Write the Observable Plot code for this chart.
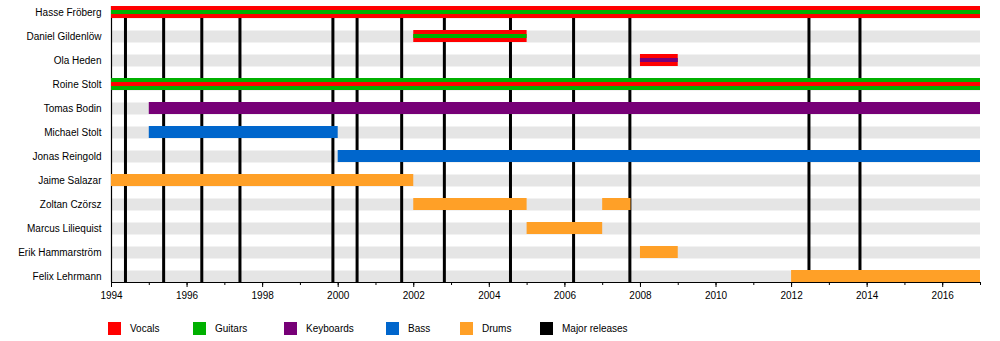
<!DOCTYPE html>
<html>
<head>
<meta charset="utf-8">
<script src="https://cdn.jsdelivr.net/npm/d3@7"></script>
<script src="https://cdn.jsdelivr.net/npm/@observablehq/plot@0.6"></script>
<style>
  html, body { margin: 0; padding: 0; background: #fff; }
  #wrap { position: relative; width: 1000px; height: 341px; font-family: "Liberation Sans", Arial, sans-serif; }
  #legend { position: absolute; left: 0; top: 322px; width: 1000px; height: 14px; font-size: 10px; color: #000; }
  .item { position: absolute; top: 0; height: 13px; line-height: 13px; white-space: nowrap; }
  .sw { position: absolute; left: 0; top: 0; width: 13px; height: 13px; }
  .lab { position: absolute; left: 22px; top: 0; }
</style>
</head>
<body>
<div id="wrap"><div id="chart"></div><div id="legend"></div></div>
<script>
// ---- data ----
const members = ["Hasse Fröberg", "Daniel Gildenlöw", "Ola Heden", "Roine Stolt", "Tomas Bodin",
  "Michael Stolt", "Jonas Reingold", "Jaime Salazar", "Zoltan Czörsz", "Marcus Liliequist",
  "Erik Hammarström", "Felix Lehrmann"];
const roles = ["Vocals", "Guitars", "Keyboards", "Bass", "Drums", "Major releases"];
const roleColors = ["#ff0000", "#00b000", "#770077", "#0066cc", "#ffa027", "#000000"];

const stintMember = ["Hasse Fröberg", "Daniel Gildenlöw", "Ola Heden", "Roine Stolt", "Tomas Bodin",
  "Michael Stolt", "Jonas Reingold", "Jaime Salazar", "Zoltan Czörsz", "Zoltan Czörsz",
  "Marcus Liliequist", "Erik Hammarström", "Felix Lehrmann"];
const stintStart = [1994, 2002, 2008, 1994, 1995, 1995, 2000, 1994, 2002, 2007, 2005, 2008, 2012];
const stintEnd   = [2017, 2005, 2009, 2017, 2017, 2000, 2017, 2002, 2005, 2007.75, 2007, 2009, 2017];
const stintRole  = ["Vocals", "Vocals", "Vocals", "Guitars", "Keyboards", "Bass", "Bass", "Drums",
  "Drums", "Drums", "Drums", "Drums", "Drums"];
const stintStripe = ["Guitars", "Guitars", "Keyboards", "Vocals", null, null, null, null, null, null, null, null, null];

const releases = [1994.37, 1995.38, 1996.39, 1997.40, 1999.86, 2000.50, 2001.68, 2002.81,
  2004.56, 2006.23, 2007.72, 2012.46, 2013.81];

const xDomain = [1994, 2017];
const minorTicks = d3.range(1994, 2018, 1);
const majorTicks = d3.range(1994, 2017, 2);

// ---- build ----
const stints = stintMember.map((m, i) => ({
  member: m, start: stintStart[i], end: stintEnd[i], role: stintRole[i], stripe: stintStripe[i]
}));

const chart = Plot.plot({
  width: 1000,
  height: 341,
  marginLeft: 111,
  marginRight: 20,
  marginTop: 6,
  marginBottom: 59,
  style: { fontFamily: "Liberation Sans, Arial, sans-serif", fontSize: "10px", background: "#fff", color: "#000" },
  x: { domain: xDomain, label: null },
  y: { domain: members, range: [0, 288], paddingInner: 0.5, paddingOuter: 0.25, label: null },
  color: { domain: roles, range: roleColors },
  marks: [
    Plot.ruleY(members, { y: d => d, stroke: "#e5e5e5", strokeWidth: 12 }),
    Plot.ruleX(releases, { x: d => d, stroke: () => "Major releases", strokeWidth: 3 }),
    Plot.ruleX([xDomain[0]], { stroke: "#000", strokeWidth: 1.2 }),
    Plot.barX(stints, { y: "member", x1: "start", x2: "end", fill: "role" }),
    Plot.barX(stints.filter(d => d.stripe), { y: "member", x1: "start", x2: "end", fill: "stripe", insetTop: 4, insetBottom: 4 }),
    Plot.frame({ anchor: "bottom", stroke: "#000" }),
    Plot.axisY({ tickSize: 0, tickPadding: 10, label: null }),
    Plot.axisX({ ticks: minorTicks, tickSize: 3, tickFormat: () => "", label: null }),
    Plot.axisX({ ticks: majorTicks, tickSize: 5, tickPadding: 4, tickFormat: "d", label: null })
  ]
});
document.getElementById("chart").appendChild(chart);

// ---- legend ----
const legendLeft = [108, 193, 284, 386, 460, 540];
const legend = document.getElementById("legend");
roles.forEach((r, i) => {
  const it = document.createElement("div");
  it.className = "item";
  it.style.left = legendLeft[i] + "px";
  const sw = document.createElement("div");
  sw.className = "sw";
  sw.style.background = roleColors[i];
  const lab = document.createElement("span");
  lab.className = "lab";
  lab.textContent = r;
  it.appendChild(sw); it.appendChild(lab);
  legend.appendChild(it);
});
</script>
</body>
</html>
